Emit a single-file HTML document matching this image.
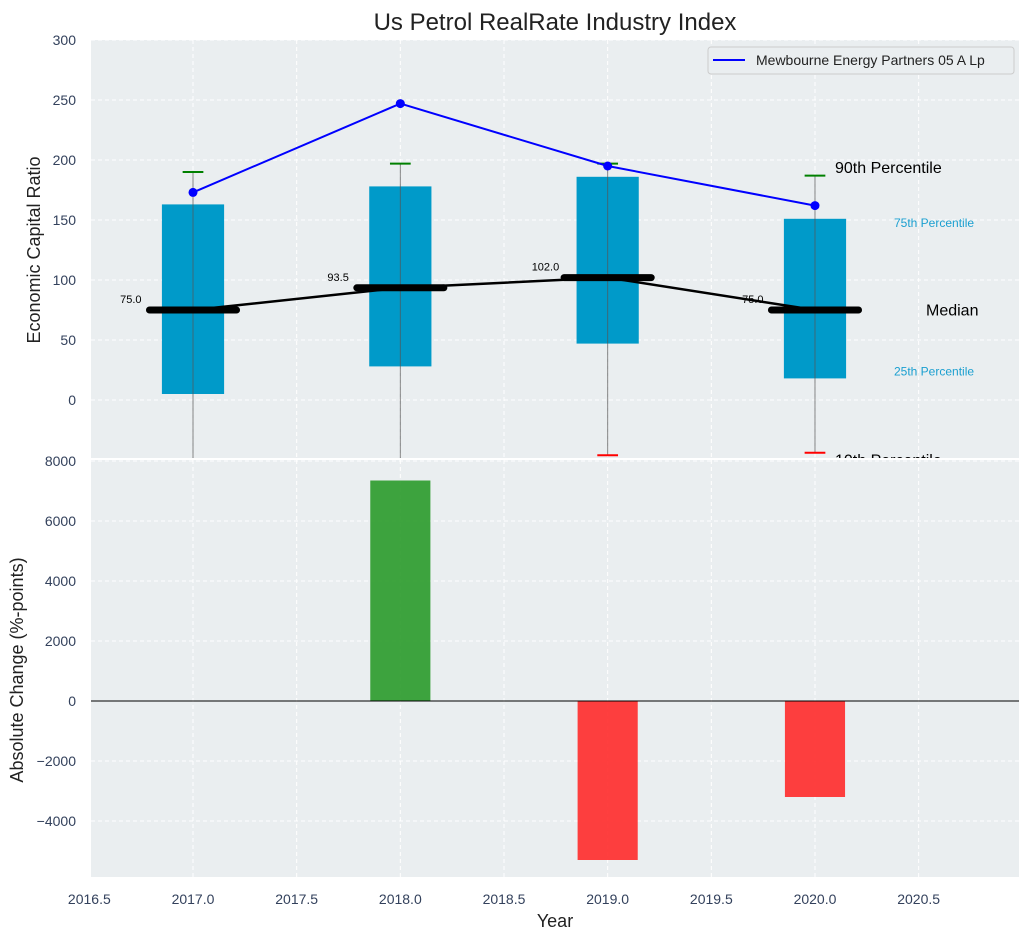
<!DOCTYPE html>
<html><head><meta charset="utf-8"><style>
body{margin:0;background:#fff;font-family:"Liberation Sans",sans-serif;}
svg text{font-family:"Liberation Sans",sans-serif;}
</style></head><body>
<svg id="c" width="1029" height="940" xmlns="http://www.w3.org/2000/svg">
<defs>
<clipPath id="clipTop"><rect x="91" y="40" width="928" height="418"/></clipPath>
<clipPath id="clipBot"><rect x="91" y="460" width="928" height="417"/></clipPath>
</defs>
<g id="topPanel"></g>
<g id="botPanel"></g>
</svg>
<script>
const years = [2017, 2018, 2019, 2020];
const q25 = [5, 28, 47, 18];
const q75 = [163, 178, 186, 151];
const p10 = [-60, -60, -46, -44];
const p90 = [190, 197, 197, 187];
const medians = [75.0, 93.5, 102.0, 75.0];
const company = [173, 247, 195, 162];
const changes = [0, 7350, -5300, -3200];
const xTicks = [2016.5, 2017.0, 2017.5, 2018.0, 2018.5, 2019.0, 2019.5, 2020.0, 2020.5];
const topTicks = [0, 50, 100, 150, 200, 250, 300];
const botTicks = [-4000, -2000, 0, 2000, 4000, 6000, 8000];

const NS = "http://www.w3.org/2000/svg";
const L = 91, R = 1019;
const xMin = 2016.508, xMax = 2020.984;
const X = v => L + (v - xMin) / (xMax - xMin) * (R - L);
const YT = v => 400 - v * 1.2;
const YB = v => 701 - v * 0.03;
function el(parent, tag, attrs, text) {
  const e = document.createElementNS(NS, tag);
  for (const k in attrs) e.setAttribute(k, attrs[k]);
  if (text !== undefined) e.textContent = text;
  parent.appendChild(e);
  return e;
}
const fmt = t => (t < 0 ? '\u2212' + Math.abs(t) : '' + t);
const svg = document.getElementById('c');
const topG = document.getElementById('topPanel');
const botG = document.getElementById('botPanel');

let bgT = el(topG, 'rect', {x: L, y: 40, width: R - L, height: 418, fill: '#eaeef0'});


let bgB = el(botG, 'rect', {x: L, y: 460, width: R - L, height: 417, fill: '#eaeef0'});



xTicks.forEach(t => {
  el(topG, 'line', {x1: X(t), x2: X(t), y1: 40, y2: 458, stroke: '#fff', 'stroke-dasharray': '4,3'});
  el(botG, 'line', {x1: X(t), x2: X(t), y1: 460, y2: 877, stroke: '#fff', 'stroke-dasharray': '4,3'});
  const tl = el(svg, 'text', {x: X(t), y: 904, 'text-anchor': 'middle', 'font-size': 14, fill: '#33415c'}, t.toFixed(1));
  
  
});
topTicks.forEach(t => {
  el(topG, 'line', {x1: L, x2: R, y1: YT(t), y2: YT(t), stroke: '#fff', 'stroke-dasharray': '4,3'});
  const tl = el(svg, 'text', {x: 76, y: YT(t) + 5, 'text-anchor': 'end', 'font-size': 14, fill: '#33415c'}, fmt(t));
  
  
});
botTicks.forEach(t => {
  el(botG, 'line', {x1: L, x2: R, y1: YB(t), y2: YB(t), stroke: '#fff', 'stroke-dasharray': '4,3'});
  const tl = el(svg, 'text', {x: 76, y: YB(t) + 5, 'text-anchor': 'end', 'font-size': 14, fill: '#33415c'}, fmt(t));
  
  
});

const gT = el(topG, 'g', {'clip-path': 'url(#clipTop)'});
const hw = 0.15, mw = 0.21, cw = 0.05;
years.forEach((yr, i) => {
  const b = el(gT, 'rect', {x: X(yr - hw), y: YT(q75[i]), width: X(yr + hw) - X(yr - hw), height: YT(q25[i]) - YT(q75[i]), fill: '#009ac9'});
  
  
  const w = el(gT, 'line', {x1: X(yr), x2: X(yr), y1: YT(p90[i]), y2: YT(p10[i]), stroke: '#555', 'stroke-width': 1, opacity: 0.7});
  
  
  const c9 = el(gT, 'line', {x1: X(yr - cw), x2: X(yr + cw), y1: YT(p90[i]), y2: YT(p90[i]), stroke: 'green', 'stroke-width': 2});
  
  
  const c1 = el(gT, 'line', {x1: X(yr - cw), x2: X(yr + cw), y1: YT(p10[i]), y2: YT(p10[i]), stroke: 'red', 'stroke-width': 2});
  
  
});
let mp = years.map((yr, i) => X(yr) + ',' + YT(medians[i])).join(' ');
const ml = el(gT, 'polyline', {points: mp, fill: 'none', stroke: '#000', 'stroke-width': 2.5});


years.forEach((yr, i) => {
  const m = el(gT, 'line', {x1: X(yr - mw), x2: X(yr + mw), y1: YT(medians[i]), y2: YT(medians[i]), stroke: '#000', 'stroke-width': 7, 'stroke-linecap': 'round'});
  
  
  const t = el(gT, 'text', {x: X(yr - 0.3), y: YT(medians[i]) - 7, 'text-anchor': 'middle', 'font-size': 11, fill: '#000'}, medians[i].toFixed(1));
  
  
});
let cp = years.map((yr, i) => X(yr) + ',' + YT(company[i])).join(' ');
const cl = el(gT, 'polyline', {points: cp, fill: 'none', stroke: 'blue', 'stroke-width': 2});


years.forEach((yr, i) => {
  const d = el(gT, 'circle', {cx: X(yr), cy: YT(company[i]), r: 4.5, fill: 'blue'});
  
  
});
const last = years.length - 1;
const lx = X(years[last]);
[['90th Percentile', p90[last] + 7, 16, '#000', 20, 'p90-annotation'],
 ['75th Percentile', q75[last] - 3.5, 12, '#1a9fd0', 79, 'p75-annotation'],
 ['Median', medians[last], 16, '#000', 111, 'median-annotation'],
 ['25th Percentile', q25[last] + 6, 12, '#1a9fd0', 79, 'p25-annotation'],
 ['10th Percentile', p10[last] - 6, 16, '#000', 20, 'p10-annotation']].forEach(a => {
  const t = el(gT, 'text', {x: lx + a[4], y: YT(a[1]) + a[2] * 0.35, 'font-size': a[2], fill: a[3]}, a[0]);
  
  
});

const lg = el(svg, 'g', {});


el(lg, 'rect', {x: 708, y: 47, width: 306, height: 27, rx: 3, fill: '#eaeef0', stroke: '#ccc'});
el(lg, 'line', {x1: 713, x2: 745, y1: 60, y2: 60, stroke: 'blue', 'stroke-width': 2});
const lt = el(lg, 'text', {x: 756, y: 65, 'font-size': 14, fill: '#222'}, 'Mewbourne Energy Partners 05 A Lp');



const gB = el(botG, 'g', {'clip-path': 'url(#clipBot)'});
years.forEach((yr, i) => {
  const v = changes[i];
  const y0 = Math.min(YB(0), YB(v)), h = Math.abs(YB(v) - YB(0));
  const r = el(gB, 'rect', {x: X(yr - 0.145), y: y0, width: X(yr + 0.145) - X(yr - 0.145), height: h, fill: v >= 0 ? '#2a9a2a' : '#ff2a2a', opacity: 0.9});
  
  
});
el(gB, 'line', {x1: L, x2: R, y1: YB(0), y2: YB(0), stroke: '#000', 'stroke-width': 1});

const ti = el(svg, 'text', {x: 555, y: 30, 'text-anchor': 'middle', 'font-size': 24, fill: '#222'}, 'Us Petrol RealRate Industry Index');


const yt = el(svg, 'text', {x: 0, y: 0, transform: 'translate(40,250) rotate(-90)', 'text-anchor': 'middle', 'font-size': 18, fill: '#222'}, 'Economic Capital Ratio');


const yb = el(svg, 'text', {x: 0, y: 0, transform: 'translate(23,670) rotate(-90)', 'text-anchor': 'middle', 'font-size': 18, fill: '#222'}, 'Absolute Change (%-points)');


const xt = el(svg, 'text', {x: 555, y: 927, 'text-anchor': 'middle', 'font-size': 18, fill: '#222'}, 'Year');


</script>
</body></html>
